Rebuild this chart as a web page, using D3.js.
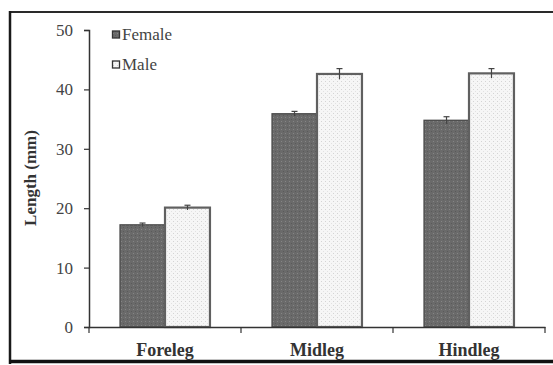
<!DOCTYPE html>
<html>
<head>
<meta charset="utf-8">
<script src="https://cdn.jsdelivr.net/npm/d3@7"></script>
<style>
  html, body { margin: 0; padding: 0; background: #fff; }
  svg { display: block; }
  svg text { font-family: "Liberation Serif", "Times New Roman", serif; }
</style>
</head>
<body>
<svg id="chart" width="553" height="365"></svg>
<script>
// Leg length by sex (mean ± SE, mm)
const categories = ["Foreleg", "Midleg", "Hindleg"];
const sexes = ["Female", "Male"];
const femaleValues = [17.2, 35.9, 34.8];
const maleValues = [20.1, 42.6, 42.7];
const femaleErrors = [0.3, 0.4, 0.6];
const maleErrors = [0.4, 0.9, 0.8];
const yTicks = [0, 10, 20, 30, 40, 50];

const svg = d3.select("#chart");
const serif = "Liberation Serif, Times New Roman, serif";

const x0 = d3.scaleBand().domain(categories).range([89, 545]).paddingInner(0).paddingOuter(0);
const x1 = d3.scaleBand().domain(sexes).range([0, x0.bandwidth()]).paddingInner(0).paddingOuter(0.69);
const y = d3.scaleLinear().domain([0, 50]).range([327, 30]);

// Fill patterns
const defs = svg.append("defs");
const pf = defs.append("pattern").attr("id", "pFemale").attr("patternUnits", "userSpaceOnUse")
  .attr("width", 4).attr("height", 4);
pf.append("rect").attr("width", 4).attr("height", 4).attr("fill", "#6a6a6a");
pf.append("rect").attr("x", 1).attr("y", 1).attr("width", 1).attr("height", 1).attr("fill", "#858585");
pf.append("rect").attr("x", 3).attr("y", 3).attr("width", 1).attr("height", 1).attr("fill", "#5a5a5a");
const pm = defs.append("pattern").attr("id", "pMale").attr("patternUnits", "userSpaceOnUse")
  .attr("width", 4).attr("height", 4);
pm.append("rect").attr("width", 4).attr("height", 4).attr("fill", "#f6f6f6");
pm.append("rect").attr("x", 1).attr("y", 1).attr("width", 1).attr("height", 1).attr("fill", "#d4d4d4");
pm.append("rect").attr("x", 3).attr("y", 3).attr("width", 1).attr("height", 1).attr("fill", "#e2e2e2");

// Outer frame
svg.append("line").attr("x1", 10).attr("x2", 553).attr("y1", 12).attr("y2", 12)
  .attr("stroke", "#2a2a2a").attr("stroke-width", 2);
svg.append("line").attr("x1", 10).attr("x2", 10).attr("y1", 11).attr("y2", 364)
  .attr("stroke", "#1a1a1a").attr("stroke-width", 2.5);
svg.append("line").attr("x1", 9).attr("x2", 553).attr("y1", 361.5).attr("y2", 361.5)
  .attr("stroke", "#111").attr("stroke-width", 3.5);

const rows = categories.map((c, i) => [
  { cat: c, sex: "Female", v: femaleValues[i], e: femaleErrors[i] },
  { cat: c, sex: "Male", v: maleValues[i], e: maleErrors[i] }
]).flat();

// Bars
svg.append("g").selectAll("rect").data(rows).join("rect")
  .attr("x", d => x0(d.cat) + x1(d.sex))
  .attr("y", d => y(d.v))
  .attr("width", x1.bandwidth())
  .attr("height", d => y(0) - y(d.v))
  .attr("fill", d => d.sex === "Female" ? "url(#pFemale)" : "url(#pMale)")
  .attr("stroke", d => d.sex === "Female" ? "#4a4a4a" : "#606060")
  .attr("stroke-width", d => d.sex === "Female" ? 1.3 : 2.2);

// Error bars
const err = svg.append("g").attr("stroke", "#444").attr("stroke-width", 1.2);
rows.forEach(d => {
  const cx = x0(d.cat) + x1(d.sex) + x1.bandwidth() / 2;
  err.append("line").attr("x1", cx).attr("x2", cx).attr("y1", y(d.v - d.e)).attr("y2", y(d.v + d.e));
  err.append("line").attr("x1", cx - 3).attr("x2", cx + 3).attr("y1", y(d.v + d.e)).attr("y2", y(d.v + d.e));
});

// Y axis
const yAxis = svg.append("g").attr("transform", "translate(89,0)")
  .call(d3.axisLeft(y).tickValues(yTicks).tickSize(5).tickPadding(11));
yAxis.attr("font-family", serif);
yAxis.select(".domain").attr("stroke", "#333").attr("stroke-width", 1.5);
yAxis.selectAll(".tick line").attr("stroke", "#333").attr("stroke-width", 1.2);
yAxis.selectAll(".tick text").attr("font-size", 17).attr("fill", "#444");

// X axis
const xAxis = svg.append("g").attr("transform", "translate(0,327)")
  .call(d3.axisBottom(x0).tickSize(0).tickPadding(16));
xAxis.attr("font-family", serif);
xAxis.select(".domain").attr("stroke", "#333").attr("stroke-width", 1.5);
xAxis.selectAll(".tick text").attr("font-size", 18)
  .attr("font-weight", "bold").attr("fill", "#333");
// category separator ticks
svg.append("g").selectAll("line")
  .data([x0.range()[0], ...categories.map(c => x0(c) + x0.bandwidth())]).join("line")
  .attr("x1", d => d).attr("x2", d => d).attr("y1", 327).attr("y2", 333)
  .attr("stroke", "#333").attr("stroke-width", 1.2);

// Y axis title
svg.append("text")
  .attr("transform", "translate(36,178) rotate(-90)")
  .attr("text-anchor", "middle")
  .attr("font-size", 17).attr("font-weight", "bold").attr("fill", "#333")
  .text("Length (mm)");

// Legend
const legend = svg.append("g");
sexes.forEach((s, i) => {
  const ly = 35 + i * 30;
  legend.append("rect").attr("x", 112.5).attr("y", ly - 4).attr("width", 7).attr("height", 7)
    .attr("fill", s === "Female" ? "url(#pFemale)" : "url(#pMale)")
    .attr("stroke", "#333").attr("stroke-width", 1.3);
  legend.append("text").attr("x", 122).attr("y", ly + 5)
    .attr("font-size", 17).attr("fill", "#444").text(s);
});
</script>
</body>
</html>
